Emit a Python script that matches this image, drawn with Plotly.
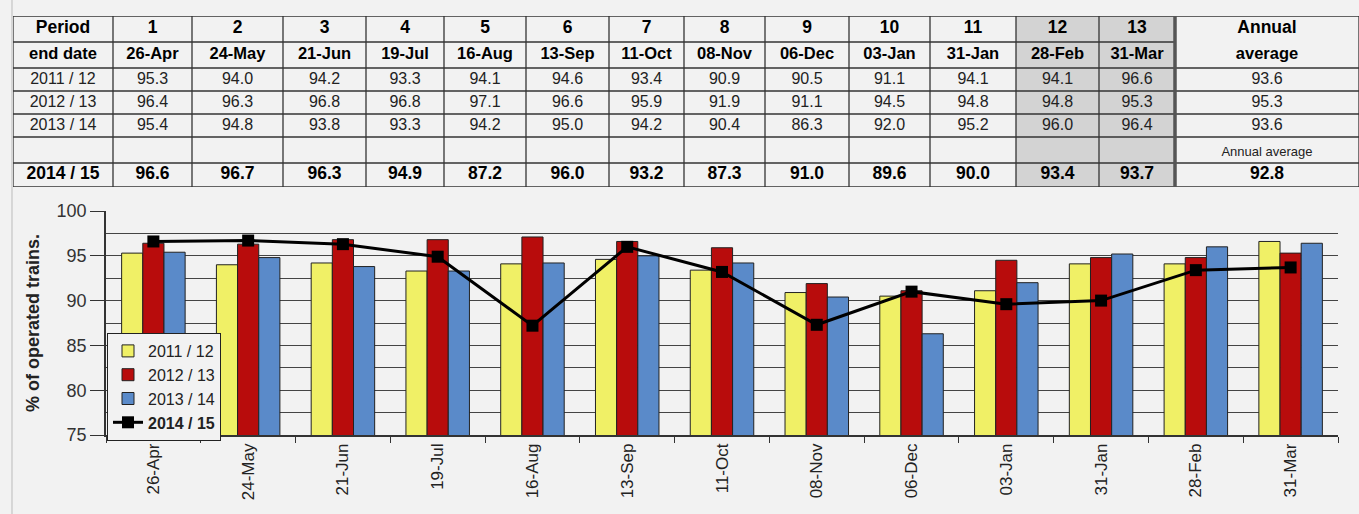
import numpy as np
import plotly.graph_objects as go

# ---------------- data ----------------
periods = ["1", "2", "3", "4", "5", "6", "7", "8", "9", "10", "11", "12", "13"]
end_dates = ["26-Apr", "24-May", "21-Jun", "19-Jul", "16-Aug", "13-Sep", "11-Oct",
             "08-Nov", "06-Dec", "03-Jan", "31-Jan", "28-Feb", "31-Mar"]
y2011 = [95.3, 94.0, 94.2, 93.3, 94.1, 94.6, 93.4, 90.9, 90.5, 91.1, 94.1, 94.1, 96.6]
y2012 = [96.4, 96.3, 96.8, 96.8, 97.1, 96.6, 95.9, 91.9, 91.1, 94.5, 94.8, 94.8, 95.3]
y2013 = [95.4, 94.8, 93.8, 93.3, 94.2, 95.0, 94.2, 90.4, 86.3, 92.0, 95.2, 96.0, 96.4]
y2014 = [96.6, 96.7, 96.3, 94.9, 87.2, 96.0, 93.2, 87.3, 91.0, 89.6, 90.0, 93.4, 93.7]
avg2011, avg2012, avg2013, avg2014 = 93.6, 95.3, 93.6, 92.8
series_names = ["2011 / 12", "2012 / 13", "2013 / 14", "2014 / 15"]
shaded_periods = ["12", "13"]

# ---------------- style ----------------
BG = "#F2F2F2"
SHADE = "#D3D3D3"
LINE = "#333333"
FONT = "Arial, Liberation Sans, sans-serif"
bar_colors = ["#F0F066", "#B80C0C", "#5A8AC9"]
W_FIG, H_FIG = 1359, 514

# table layout (pixels)
col_w = [100, 79, 91, 83, 78, 82, 83, 75, 81, 84, 81, 86, 83, 76, 184]
row_h = [26, 26, 23, 23, 23, 26, 24]
tbl_left, tbl_top = 13, 16
xb = np.concatenate([[0], np.cumsum(col_w)])
yb = np.concatenate([[0], np.cumsum(row_h)])
TW, TH = float(xb[-1]), float(yb[-1])

# ---------------- table content ----------------
fmt = lambda v: f"{v:.1f}"
rows = [
    ["<b>Period</b>"] + [f"<b>{p}</b>" for p in periods] + ["<b>Annual</b>"],
    ["<b>end date</b>"] + [f"<b>{d}</b>" for d in end_dates] + ["<b>average</b>"],
    [series_names[0]] + [fmt(v) for v in y2011] + [fmt(avg2011)],
    [series_names[1]] + [fmt(v) for v in y2012] + [fmt(avg2012)],
    [series_names[2]] + [fmt(v) for v in y2013] + [fmt(avg2013)],
    [""] * (len(periods) + 1) + ["Annual average"],
    [f"<b>{series_names[3]}</b>"] + [f"<b>{fmt(v)}</b>" for v in y2014]
    + [f"<b>{fmt(avg2014)}</b>"],
]
row_font = [17.5, 16.5, 16, 16, 16, 13, 17.5]
row_color = ["black", "black", "#222222", "#222222", "#222222", "#222222", "black"]

tx, ty, tt, ts, tc = [], [], [], [], []
for r, row in enumerate(rows):
    for c, val in enumerate(row):
        if val == "":
            continue
        tx.append((xb[c] + xb[c + 1]) / 2)
        ty.append((yb[r] + yb[r + 1]) / 2 + (3 if r == 5 else 0))
        tt.append(val)
        ts.append(row_font[r])
        tc.append(row_color[r])

col_keys = [""] + periods + [""]
z = [[1 if k in shaded_periods else 0 for k in col_keys] for _ in row_h]

# grid lines
lx, ly = [], []
for x in xb[:-2]:
    lx += [x, x, None]; ly += [0, TH, None]
lx += [TW, TW, None]; ly += [0, TH, None]
for i, y in enumerate(yb):
    xend = xb[-2] if i == 1 else TW
    lx += [0, xend, None]; ly += [y, y, None]

fig = go.Figure()

fig.add_trace(go.Heatmap(x=xb, y=yb, z=z, xaxis="x2", yaxis="y2",
                         colorscale=[[0, BG], [1, SHADE]], zmin=0, zmax=1,
                         showscale=False, hoverinfo="skip"))
fig.add_trace(go.Scatter(x=lx, y=ly, xaxis="x2", yaxis="y2", mode="lines",
                         line=dict(color=LINE, width=1.3), showlegend=False,
                         hoverinfo="skip"))
fig.add_trace(go.Scatter(x=[xb[-2], xb[-2]], y=[0, TH], xaxis="x2", yaxis="y2",
                         mode="lines", line=dict(color="#555555", width=3.5),
                         showlegend=False, hoverinfo="skip"))
fig.add_trace(go.Scatter(x=tx, y=ty, text=tt, xaxis="x2", yaxis="y2", mode="text",
                         textposition="middle center",
                         textfont=dict(family=FONT, size=ts, color=tc),
                         showlegend=False, hoverinfo="skip"))

# ---------------- chart ----------------
for name, vals, col in zip(series_names[:3], [y2011, y2012, y2013], bar_colors):
    fig.add_trace(go.Bar(x=end_dates, y=vals, name=name, marker_color=col,
                         marker_line=dict(color="#222222", width=1)))

fig.add_trace(go.Scatter(x=end_dates, y=y2014, name=f"<b>{series_names[3]}</b>",
                         mode="lines+markers",
                         line=dict(color="black", width=3),
                         marker=dict(symbol="square", size=12, color="black")))

fig.update_layout(
    width=W_FIG, height=H_FIG,
    paper_bgcolor=BG, plot_bgcolor=BG,
    margin=dict(l=0, r=0, t=0, b=0, autoexpand=False),
    barmode="group", bargap=0.33, bargroupgap=0,
    font=dict(family=FONT, color="#222222"),
    showlegend=True, hovermode=False,
    legend=dict(x=107 / W_FIG, y=(H_FIG - 333) / H_FIG, xanchor="left", yanchor="top",
                bgcolor=BG, bordercolor="#222222", borderwidth=1,
                font=dict(family=FONT, size=16, color="#222222"),
                tracegroupgap=0, itemwidth=30),
    xaxis=dict(domain=[106 / W_FIG, 1338 / W_FIG], type="category", automargin=False,
               range=[-0.5, len(end_dates) - 0.5],
               tickangle=-90, tickfont=dict(size=17, color="#222222"),
               showline=True, linecolor=LINE, linewidth=1.5,
               ticks="outside", tickson="boundaries", ticklen=6, tickcolor=LINE,
               showgrid=False),
    yaxis=dict(domain=[(H_FIG - 435) / H_FIG, (H_FIG - 211) / H_FIG], range=[75, 100],
               automargin=False,
               dtick=5, tick0=75, tickfont=dict(size=18, color="#333333"),
               showline=True, linecolor=LINE, linewidth=1.5,
               ticks="outside", ticklen=14, tickcolor=LINE,
               showgrid=True, gridcolor="#444444", gridwidth=1,
               minor=dict(dtick=2.5, showgrid=True, gridcolor="#444444", gridwidth=1),
               zeroline=False,
               title=dict(text="<b>% of operated trains.</b>",
                          font=dict(size=18, color="#222222"), standoff=12)),
    xaxis2=dict(domain=[tbl_left / W_FIG, (tbl_left + TW) / W_FIG], range=[0, TW],
                visible=False, anchor="y2", fixedrange=True, automargin=False),
    yaxis2=dict(domain=[(H_FIG - tbl_top - TH) / H_FIG, (H_FIG - tbl_top) / H_FIG],
                range=[TH, 0], visible=False, anchor="x2", fixedrange=True,
                automargin=False),
)

fig.add_shape(type="line", xref="paper", yref="paper", x0=12 / W_FIG, x1=12 / W_FIG,
              y0=0, y1=1, line=dict(color="#BBBBBB", width=1))

fig.write_html("out.html", config={"displayModeBar": False},
               post_script="document.body.style.margin='0';")
